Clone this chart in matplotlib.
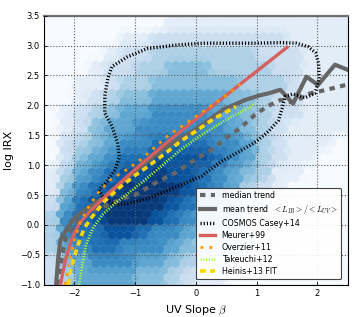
import numpy as np
import matplotlib
matplotlib.use("Agg")
import matplotlib.pyplot as plt

# ---------------- data ----------------
# density levels (0..9) of the hexbin background, rows from IRX=3.5 (top) down to -1,
# columns from beta=-2.5 to 2.5, each cell 0.25 x 0.25
density_rows = [
    "00000000111111111111",
    "00000112222222221111",
    "00001223333333222111",
    "00012233444333322111",
    "00112334444443332111",
    "00123445555544322111",
    "01234556666554322111",
    "01245566666654321111",
    "02345667777665321110",
    "02456778888765321100",
    "13567889887654311000",
    "14678999987653210000",
    "25789999876542100000",
    "36789998765431000000",
    "36778876654321000000",
    "35677666543211000000",
    "24566655432110000000",
    "23555544321100000000",
]

median_beta = [-2.27, -2.2, -2.14, -1.95, -1.75, -1.5, -1.2, -0.97, -0.67, -0.34, -0.18, 0.0,
               0.29, 0.53, 0.73, 0.97, 1.17, 1.39, 1.6, 1.88, 2.15, 2.46]
median_irx = [-1.0, -0.5, -0.22, 0.05, 0.2, 0.31, 0.44, 0.52, 0.70, 0.87, 0.98, 1.1,
              1.28, 1.48, 1.62, 1.84, 1.98, 2.09, 2.05, 2.2, 2.26, 2.34]

mean_beta = [-2.30, -2.27, -2.23, -2.03, -1.87, -1.75, -1.5, -1.0, -0.5, 0.0, 0.45, 0.81,
             1.06, 1.19, 1.39, 1.6, 1.82, 2.01, 2.29, 2.51]
mean_irx = [-1.0, -0.6, -0.25, 0.08, 0.22, 0.30, 0.47, 0.90, 1.30, 1.6, 1.93, 2.09,
            2.17, 2.2, 2.26, 2.03, 2.48, 2.34, 2.68, 2.59]

casey_beta = [-1.6, -1.5, -1.3, -1.1, -0.8, -0.4, 0.1, 0.4, 0.7, 1.0, 1.2, 1.36, 1.42, 1.47,
              1.6, 1.8, 1.96, 2.03, 2.02, 1.97, 1.85, 1.65, 1.4, 1.0, 0.5, 0.13, -0.31, -0.8,
              -1.13, -1.38, -1.45, -1.5, -1.5, -1.38, -1.29, -1.26, -1.33, -1.45, -1.6]
casey_irx = [0.58, 0.42, 0.34, 0.36, 0.44, 0.6, 0.82, 1.05, 1.22, 1.4, 1.57, 1.75, 1.95, 2.15,
             2.19, 2.13, 2.2, 2.45, 2.7, 2.88, 2.98, 3.04, 3.05, 3.04, 3.04, 3.04, 3.01, 2.95,
             2.81, 2.65, 2.45, 2.15, 1.87, 1.65, 1.37, 1.14, 0.92, 0.75, 0.58]

meurer_beta = [-2.23, -2.15, -2.05, -1.92, -1.75, -1.5, -1.25, -1.0, -0.5, 0.0, 0.5, 1.0, 1.5]
meurer_irx = [-1.0, -0.6, -0.25, 0.02, 0.22, 0.47, 0.70, 0.93, 1.36, 1.77, 2.17, 2.57, 2.97]

overzier_beta = [-2.15, -2.08, -2.0, -1.9, -1.75, -1.6, -1.4, -1.1, -0.9, -0.45, -0.12, 0.23, 0.56, 0.75]
overzier_irx = [-1.0, -0.6, -0.25, 0.05, 0.33, 0.55, 0.76, 0.95, 1.1, 1.5, 1.73, 1.98, 2.21, 2.37]

takeuchi_beta = [-1.92, -1.87, -1.81, -1.7, -1.54, -1.33, -1.0, -0.64, -0.26, 0.07, 0.5, 0.99]
takeuchi_irx = [-1.0, -0.67, -0.34, -0.06, 0.17, 0.36, 0.62, 0.92, 1.25, 1.49, 1.76, 2.03]

heinis_beta = [-2.1, -2.05, -1.95, -1.84, -1.73, -1.5, -1.25, -1.0, -0.8, -0.5, -0.25, 0.0, 0.3, 0.66]
heinis_irx = [-1.0, -0.7, -0.36, -0.06, 0.11, 0.4, 0.63, 0.83, 0.97, 1.2, 1.4, 1.57, 1.78, 1.98]

xticks = [-2, -1, 0, 1, 2]
yticks = [-1.0, -0.5, 0.0, 0.5, 1.0, 1.5, 2.0, 2.5, 3.0, 3.5]
xlim = (-2.5, 2.5)
ylim = (-1.0, 3.5)

# ---------------- figure ----------------
plt.rcParams["mathtext.fontset"] = "cm"
fig = plt.figure(figsize=(3.63, 3.17), dpi=100)
ax = fig.add_axes([0.1212, 0.1019, 0.8368, 0.8486])
ax.set_facecolor("#f7fbff")

# background density (hexbin built from the level table)
table = np.array([[int(c) for c in r] for r in density_rows], dtype=float)
nrow, ncol = table.shape
fx = np.linspace(xlim[0] + 0.005, xlim[1] - 0.005, 260)
fy = np.linspace(ylim[0] + 0.005, ylim[1] - 0.005, 240)
FX, FY = np.meshgrid(fx, fy)
ci = np.clip(((FX - xlim[0]) / (xlim[1] - xlim[0]) * ncol).astype(int), 0, ncol - 1)
ri = np.clip(((ylim[1] - FY) / (ylim[1] - ylim[0]) * nrow).astype(int), 0, nrow - 1)
CV = table[ri, ci]
ax.hexbin(FX.ravel(), FY.ravel(), C=CV.ravel(), gridsize=(38, 19),
          extent=(xlim[0], xlim[1], ylim[0], ylim[1]), cmap="Blues",
          vmin=0, vmax=9.3, reduce_C_function=np.mean, linewidths=0.2, zorder=1)

gray = "#666666"
ax.plot(median_beta, median_irx, color=gray, lw=3.0, dashes=(1.3, 1.3),
        solid_capstyle="butt", dash_capstyle="butt", zorder=3, label="median trend")
ax.plot(mean_beta, mean_irx, color=gray, lw=3.0, zorder=3,
        label=r"mean trend  $<L_{IR}>/<L_{UV}>$")
ax.plot(casey_beta, casey_irx, color="black", lw=2.4, dashes=(0.35, 0.6),
        dash_capstyle="butt", zorder=3, label="COSMOS Casey+14")
ax.plot(meurer_beta, meurer_irx, color="#d65f5f", lw=2.4, zorder=4, label="Meurer+99")
ax.plot(overzier_beta, overzier_irx, color="#ff9900", lw=2.0, dashes=(1.0, 2.2),
        dash_capstyle="butt", zorder=5, label="Overzier+11")
ax.plot(takeuchi_beta, takeuchi_irx, color="#adff2f", lw=2.0, dashes=(0.4, 0.6),
        dash_capstyle="butt", zorder=5, label="Takeuchi+12")
ax.plot(heinis_beta, heinis_irx, color="#ffd700", lw=2.6, dashes=(1.6, 1.2),
        dash_capstyle="butt", zorder=5, label="Heinis+13 FIT")

ax.set_xlim(*xlim)
ax.set_ylim(*ylim)
ax.set_xticks(xticks)
ax.set_yticks(yticks)
ax.set_yticklabels([f"{v:.1f}".replace("-", "\u2212") for v in yticks])
ax.set_xticklabels([f"{v}".replace("-", "\u2212") for v in xticks])
ax.tick_params(direction="in", length=2.5, width=0.6, labelsize=6, pad=3)
ax.grid(True, linestyle=":", color="0.35", linewidth=0.8)
ax.set_axisbelow(False)
for s in ["left", "bottom", "right"]:
    ax.spines[s].set_color("black")
    ax.spines[s].set_linewidth(0.8)
ax.spines["top"].set_color("0.45")
ax.spines["top"].set_linewidth(1.6)

ax.set_xlabel(r"UV Slope $\beta$", fontsize=8, labelpad=4)
ax.set_ylabel("log IRX", fontsize=8, labelpad=4)

leg = ax.legend(loc="lower right", bbox_to_anchor=(0.985, 0.012), fontsize=5.7,
                frameon=True, fancybox=True, framealpha=0.92, edgecolor="0.2",
                handlelength=2.0, handletextpad=0.8, borderpad=0.4,
                labelspacing=0.38, borderaxespad=0.3)
leg.get_frame().set_linewidth(0.8)
leg.set_zorder(10)

fig.savefig("out.png", dpi=100)
